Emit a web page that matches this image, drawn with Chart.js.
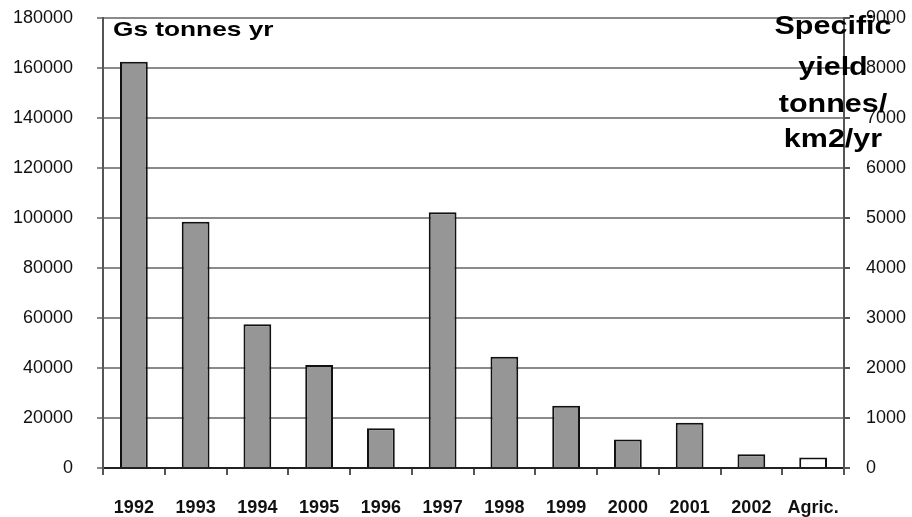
<!DOCTYPE html>
<html>
<head>
<meta charset="utf-8">
<script src="https://cdn.jsdelivr.net/npm/chart.js@4"></script>
<style>
  html, body { margin: 0; padding: 0; background: #fff; }
  #wrap { width: 912px; height: 517px; position: relative; }
</style>
</head>
<body>
<div id="wrap"><canvas id="chart"></canvas></div>
<script>
const categories = ['1992', '1993', '1994', '1995', '1996', '1997', '1998', '1999', '2000', '2001', '2002', 'Agric.'];
const sedimentLoad = [162500, 98500, 57500, 41200, 15900, 102300, 44500, 24900, 11400, 18100, 5500, null];
const agricYield = [null, null, null, null, null, null, null, null, null, null, null, 210];
const leftTicks = [0, 20000, 40000, 60000, 80000, 100000, 120000, 140000, 160000, 180000];
const rightTicks = [0, 1000, 2000, 3000, 4000, 5000, 6000, 7000, 8000, 9000];
const leftTitle = 'Gs tonnes yr';
const rightTitle = ['Specific', 'yield', 'tonnes/', 'km2/yr'];

const FONT = '"Liberation Sans", Arial, sans-serif';

// titles sit inside the plot and look stretched sideways
const titlePlugin = {
  id: 'stretchedTitles',
  afterDraw(chart) {
    const ctx = chart.ctx;
    const area = chart.chartArea;
    ctx.save();
    ctx.fillStyle = '#000';
    ctx.font = 'bold 21px ' + FONT;
    ctx.textAlign = 'left';
    ctx.textBaseline = 'alphabetic';
    ctx.save();
    ctx.translate(area.left + 10, 36);
    ctx.scale(1.25, 1);
    ctx.fillText(leftTitle, 0, 0);
    ctx.restore();

    ctx.font = 'bold 25px ' + FONT;
    ctx.textAlign = 'center';
    const baselines = [34, 75, 112, 147];
    rightTitle.forEach((line, i) => {
      ctx.save();
      ctx.translate(833, baselines[i]);
      ctx.scale(1.22, 1);
      ctx.fillText(line, 0, 0);
      ctx.restore();
    });
    ctx.restore();
  },
};

new Chart(document.getElementById('chart'), {
  type: 'bar',
  data: {
    labels: categories,
    datasets: [{
      label: 'Gs',
      data: sedimentLoad,
      yAxisID: 'y',
      backgroundColor: '#969696',
      borderColor: '#111',
      borderWidth: 2,
    }, {
      label: 'Agric',
      data: agricYield,
      yAxisID: 'y2',
      backgroundColor: '#fff',
      borderColor: '#111',
      borderWidth: 2,
    }],
  },
  options: {
    responsive: true,
    maintainAspectRatio: false,
    animation: false,
    devicePixelRatio: 1,
    layout: {padding: {top: 18, left: 0, right: 0, bottom: 0}},
    plugins: {legend: {display: false}, tooltip: {enabled: false}},
    datasets: {bar: {grouped: false, categoryPercentage: 1, barPercentage: 0.45}},
    scales: {
      x: {
        grid: {offset: true, drawOnChartArea: false, tickLength: 7, color: '#555', lineWidth: 2},
        border: {color: '#222', width: 2},
        ticks: {font: {family: FONT, size: 18, weight: 'bold'}, color: '#111', padding: 22, maxRotation: 0},
        afterFit(scale) { scale.height = 49; },
      },
      y: {
        position: 'left',
        min: 0,
        max: 180000,
        afterBuildTicks(scale) { scale.ticks = leftTicks.map(v => ({value: v})); },
        grid: {color: '#8a8a8a', lineWidth: 2, tickLength: 6},
        border: {color: '#555', width: 2},
        ticks: {font: {family: FONT, size: 18}, color: '#111', padding: 24, callback: v => String(v)},
        afterFit(scale) {
          scale.width = 103;
          scale.paddingTop = 0;
          scale.paddingBottom = 0;
        },
      },
      y2: {
        position: 'right',
        min: 0,
        max: 9000,
        afterBuildTicks(scale) { scale.ticks = rightTicks.map(v => ({value: v})); },
        grid: {drawOnChartArea: false, color: '#555', lineWidth: 2, tickLength: 6},
        border: {color: '#555', width: 2},
        ticks: {font: {family: FONT, size: 18}, color: '#111', padding: 16, callback: v => String(v)},
        afterFit(scale) {
          scale.width = 68;
          scale.paddingTop = 0;
          scale.paddingBottom = 0;
        },
      },
    },
  },
  plugins: [titlePlugin],
});
</script>
</body>
</html>
